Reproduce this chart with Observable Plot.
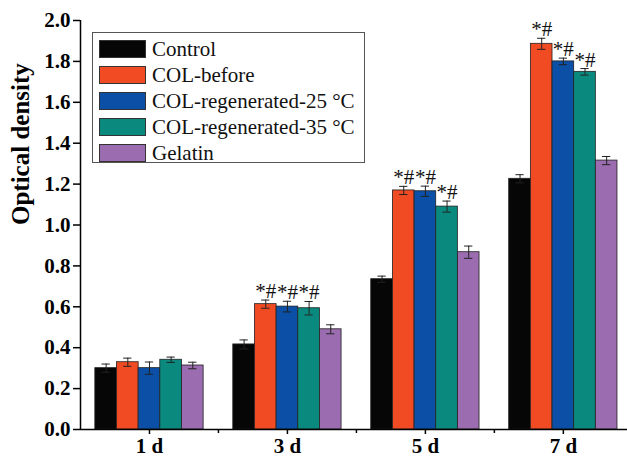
<!DOCTYPE html>
<html>
<head>
<meta charset="utf-8">
<script src="https://cdn.jsdelivr.net/npm/d3@7"></script>
<script src="https://cdn.jsdelivr.net/npm/@observablehq/plot@0.6"></script>
<style>
  body { margin: 0; background: #fff; }
  #wrap { position: relative; width: 627px; height: 461px; font-family: "Liberation Serif", "Times New Roman", serif; }
  #legend { position: absolute; left: 92px; top: 32px; width: 273px; height: 131px; border: 1px solid #555; background: #fff; box-sizing: border-box; padding-top: 3px; }
  .row { display: flex; align-items: center; height: 26px; }
  .sw { width: 47px; height: 18px; margin-left: 6px; margin-right: 6px; border: 1px solid #333; box-sizing: border-box; }
  .lab { font-size: 21px; color: #111; white-space: nowrap; }
</style>
</head>
<body>
<div id="wrap"><div id="chart"></div><div id="legend"></div></div>
<script>
const days = ["1 d", "3 d", "5 d", "7 d"];
const groups = ["Control", "COL-before", "COL-regenerated-25 °C", "COL-regenerated-35 °C", "Gelatin"];
const colors = ["#060606", "#f04b23", "#0b4fa6", "#0a8a7e", "#9b6cb0"];
const yTicks = [0, 0.2, 0.4, 0.6, 0.8, 1.0, 1.2, 1.4, 1.6, 1.8, 2.0];

const control    = [0.300, 0.416, 0.735, 1.226];
const controlErr = [0.020, 0.022, 0.015, 0.020];
const before     = [0.329, 0.613, 1.169, 1.886];
const beforeErr  = [0.020, 0.020, 0.020, 0.027];
const reg25      = [0.300, 0.601, 1.165, 1.800];
const reg25Err   = [0.030, 0.026, 0.025, 0.016];
const reg35      = [0.341, 0.593, 1.090, 1.749];
const reg35Err   = [0.013, 0.033, 0.027, 0.016];
const gelatin    = [0.313, 0.490, 0.867, 1.315];
const gelatinErr = [0.016, 0.022, 0.030, 0.020];
const controlSig = ["", "", "", ""];
const beforeSig  = ["", "*#", "*#", "*#"];
const reg25Sig   = ["", "*#", "*#", "*#"];
const reg35Sig   = ["", "*#", "*#", "*#"];
const gelatinSig = ["", "", "", ""];

const series = [
  [control, controlErr, controlSig],
  [before, beforeErr, beforeSig],
  [reg25, reg25Err, reg25Sig],
  [reg35, reg35Err, reg35Sig],
  [gelatin, gelatinErr, gelatinSig]
];

const barW = 0.157;   // bar width in day units
const capW = 0.03;    // half cap width in day units
const rows = [];
series.forEach(([vals, errs, sigs], gi) => {
  days.forEach((d, di) => {
    const xc = di + (gi - 2) * barW;
    rows.push({day: d, g: groups[gi], v: vals[di], e: errs[di], sig: sigs[di],
      xc, x1: xc - barW / 2, x2: xc + barW / 2, lo: vals[di] - errs[di], hi: vals[di] + errs[di]});
  });
});

const plot = Plot.plot({
  width: 627,
  height: 461,
  marginLeft: 80,
  marginRight: 0,
  marginTop: 20,
  marginBottom: 32,
  style: {fontFamily: "Liberation Serif, Times New Roman, serif", background: "#fff", color: "#000"},
  x: {domain: [-0.5, 3.465], axis: null},
  y: {domain: [0, 2], axis: null},
  color: {domain: groups, range: colors},
  marks: [
    Plot.rectY(rows, {x1: "x1", x2: "x2", y1: 0, y2: "v", fill: "g", stroke: "#222", strokeWidth: 0.8}),
    Plot.ruleX(rows, {x: "xc", y1: "lo", y2: "hi", stroke: "#222", strokeWidth: 1}),
    Plot.ruleY(rows, {y: "hi", x1: d => d.xc - capW, x2: d => d.xc + capW, stroke: "#222", strokeWidth: 1}),
    Plot.ruleY(rows, {y: "lo", x1: d => d.xc - capW, x2: d => d.xc + capW, stroke: "#222", strokeWidth: 1}),
    Plot.text(rows.filter(d => d.sig), {x: "xc", y: "hi", text: "sig", lineAnchor: "bottom", dy: -2, fontSize: 21, fill: "#111"}),
    Plot.ruleY([0], {stroke: "#000", strokeWidth: 1.5}),
    Plot.ruleX([-0.5], {y1: 0, y2: 2, stroke: "#000", strokeWidth: 1.5}),
    Plot.axisY({ticks: yTicks, tickFormat: d3.format(".1f"), tickSize: 7, tickPadding: 3, fontSize: 21, fontWeight: "bold", label: null, strokeWidth: 1.5}),
    Plot.text(["Optical density"], {frameAnchor: "left", dx: -60, rotate: -90, fontSize: 25, fontWeight: "bold", fill: "#000"}),
    Plot.axisX({ticks: [0, 1, 2, 3], tickFormat: d => days[d], tickSize: 5, tickPadding: 4, fontSize: 21, fontWeight: "bold", label: null, strokeWidth: 1.5}),
    Plot.axisX({ticks: [0.5, 1.5, 2.5], tickFormat: null, text: null, tickSize: 4, label: null, strokeWidth: 1.5})
  ]
});
document.getElementById("chart").appendChild(plot);

const legend = document.getElementById("legend");
groups.forEach((g, i) => {
  const row = document.createElement("div");
  row.className = "row";
  const sw = document.createElement("div");
  sw.className = "sw";
  sw.style.background = colors[i];
  const lab = document.createElement("span");
  lab.className = "lab";
  lab.textContent = g;
  row.appendChild(sw);
  row.appendChild(lab);
  legend.appendChild(row);
});
</script>
</body>
</html>
